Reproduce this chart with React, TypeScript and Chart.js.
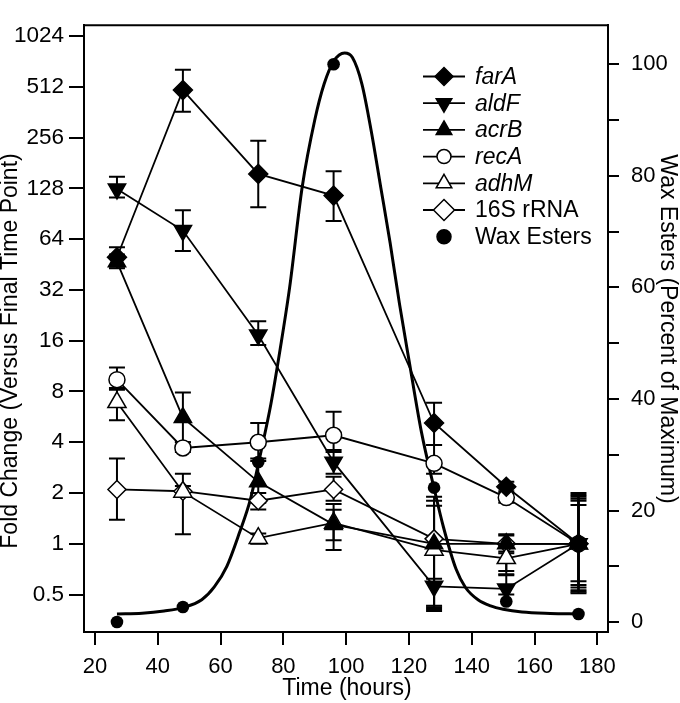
import React, { useEffect, useRef } from 'react';
import { Chart, registerables } from 'chart.js';

Chart.register(...registerables);

// ---- data ----
const hours = [27, 48, 72, 96, 128, 151, 174];

const farA = [50, 490, 156, 116, 5.2, 2.18, 1.0];
const farAUp = [57.3, 646, 245, 162, 6.85, 2.33, 1.95];
const farALo = [44, 364, 99, 82, 3.85, 2.05, 0.52];

const aldF = [127, 72, 17.3, 3.05, 0.56, 0.54, 1.0];
const aldFUp = [150, 95, 20.9, 3.6, 0.62, 0.66, 1.9];
const aldFLo = [113, 54.5, 15.1, 2.6, 0.4, 0.5, 0.55];

const acrB = [47, 5.6, 2.33, 1.3, 1.0, 1.0, 1.0];
const acrBUp = [52, 7.9, 3.1, 1.72, 1.8, 1.12, 1.8];
const acrBLo = [43, 4.0, 1.75, 1.05, 0.43, 0.9, 0.57];

const recA = [9.4, 3.7, 4.0, 4.4, 3.0, 1.88, 1.0];
const recAUp = [11.1, 4.0, 5.2, 6.07, 3.85, 2.0, 1.85];
const recALo = [8.4, 3.5, 3.2, 3.5, 2.6, 1.75, 0.53];

const adhM = [6.9, 2.03, 1.08, 1.33, 0.92, 0.82, 1.0];
const adhMUp = [8.2, 2.6, 1.15, 1.59, 1.68, 0.88, 1.7];
const adhMLo = [5.4, 1.14, 1.0, 0.92, 0.41, 0.69, 0.6];

const rRNA16S = [2.1, 2.05, 1.8, 2.1, 1.07, 1.0, 1.0];
const rRNA16SUp = [3.2, 2.2, 2.0, 2.5, 1.9, 1.14, 2.0];
const rRNA16SLo = [1.39, 1.9, 1.6, 1.8, 0.42, 0.65, 0.51];

const waxEsters = [0, 2.7, 28.7, 100, 24.1, 3.7, 1.45];

const fitHours = [27, 35, 42, 48, 54, 58, 62, 66, 69.5, 72.5, 76, 79, 82, 86, 90, 93, 96, 99.5, 102, 105, 108, 111, 114, 117, 120, 124, 128, 131, 135, 138, 142, 146, 150, 156, 165, 174];
const fitValues = [1.45, 1.6, 2.0, 2.6, 4.0, 6.3, 10, 16, 22, 29.6, 39, 49, 60, 78, 90, 96.5, 100.5, 102, 101.2, 96.5, 88, 78, 68, 57, 47, 34, 24, 17, 9.5, 6.2, 4.0, 2.9, 2.3, 1.8, 1.55, 1.45];

const xTicks = [20, 40, 60, 80, 100, 120, 140, 160, 180];
const foldTicks = [0.5, 1, 2, 4, 8, 16, 32, 64, 128, 256, 512, 1024];
const waxTicks = [0, 10, 20, 30, 40, 50, 60, 70, 80, 90, 100];

const FONT = '"Liberation Sans", Arial, Helvetica, sans-serif';

const genes = [
  { label: 'farA', data: farA, up: farAUp, lo: farALo, style: 'rectRot', rot: 0, r: 9.5, lr: 9, filled: true, italic: true },
  { label: 'aldF', data: aldF, up: aldFUp, lo: aldFLo, style: 'triangle', rot: 180, r: 10, lr: 9, filled: true, italic: true },
  { label: 'acrB', data: acrB, up: acrBUp, lo: acrBLo, style: 'triangle', rot: 0, r: 10, lr: 9, filled: true, italic: true },
  { label: 'recA', data: recA, up: recAUp, lo: recALo, style: 'circle', rot: 0, r: 8, lr: 7, filled: false, italic: true },
  { label: 'adhM', data: adhM, up: adhMUp, lo: adhMLo, style: 'triangle', rot: 0, r: 10.5, lr: 9, filled: false, italic: true },
  { label: '16S rRNA', data: rRNA16S, up: rRNA16SUp, lo: rRNA16SLo, style: 'rectRot', rot: 0, r: 9, lr: 10.5, filled: false, italic: false },
];

function drawMarker(ctx: CanvasRenderingContext2D, style: string, x: number, y: number, r: number, filled: boolean, rot: number) {
  ctx.beginPath();
  if (style === 'circle') {
    ctx.arc(x, y, r, 0, Math.PI * 2);
  } else if (style === 'rectRot') {
    ctx.moveTo(x, y - r);
    ctx.lineTo(x + r, y);
    ctx.lineTo(x, y + r);
    ctx.lineTo(x - r, y);
    ctx.closePath();
  } else {
    const s = rot === 180 ? -1 : 1;
    const hw = r * Math.sin((2 * Math.PI) / 3);
    ctx.moveTo(x, y - s * r);
    ctx.lineTo(x + hw, y + (s * r) / 2);
    ctx.lineTo(x - hw, y + (s * r) / 2);
    ctx.closePath();
  }
  ctx.fillStyle = filled ? '#000' : '#fff';
  ctx.fill();
  ctx.lineWidth = 1.5;
  ctx.strokeStyle = '#000';
  ctx.stroke();
}

const decor = {
  id: 'decor',
  beforeDatasetsDraw(chart: any) {
    const ctx: CanvasRenderingContext2D = chart.ctx;
    const xs = chart.scales.x;
    const ys = chart.scales.y;
    const area = chart.chartArea;
    ctx.save();
    ctx.beginPath();
    ctx.rect(area.left, area.top, area.right - area.left, area.bottom - area.top);
    ctx.clip();
    ctx.strokeStyle = '#000';
    ctx.lineWidth = 2;
    genes.forEach((g) => {
      hours.forEach((h, i) => {
        const px = xs.getPixelForValue(h);
        const pu = ys.getPixelForValue(g.up[i]);
        const pl = ys.getPixelForValue(g.lo[i]);
        ctx.beginPath();
        ctx.moveTo(px, pu);
        ctx.lineTo(px, pl);
        ctx.moveTo(px - 8, pu);
        ctx.lineTo(px + 8, pu);
        ctx.moveTo(px - 8, pl);
        ctx.lineTo(px + 8, pl);
        ctx.stroke();
      });
    });
    ctx.restore();
  },
  afterDraw(chart: any) {
    const ctx: CanvasRenderingContext2D = chart.ctx;
    const area = chart.chartArea;
    ctx.save();
    // top frame line
    ctx.strokeStyle = '#000';
    ctx.lineWidth = 2;
    ctx.beginPath();
    ctx.moveTo(area.left - 1, area.top);
    ctx.lineTo(area.right + 1, area.top);
    ctx.stroke();

    // legend
    const lx0 = area.left + 339;
    const lx1 = area.left + 381;
    const lmx = area.left + 360;
    const tx = area.left + 391;
    const ly0 = area.top + 51.3;
    const dy = 26.7;
    const entries = [
      ...genes.map((g) => ({ label: g.label, style: g.style, rot: g.rot, r: g.lr, filled: g.filled, italic: g.italic, line: true })),
      { label: 'Wax Esters', style: 'circle', rot: 0, r: 7, filled: true, italic: false, line: false },
    ];
    entries.forEach((e, i) => {
      const y = ly0 + i * dy;
      if (e.line) {
        ctx.strokeStyle = '#000';
        ctx.lineWidth = 1.8;
        ctx.beginPath();
        ctx.moveTo(lx0, y);
        ctx.lineTo(lx1, y);
        ctx.stroke();
      }
      drawMarker(ctx, e.style, lmx, y, e.r, e.filled, e.rot);
      ctx.fillStyle = '#000';
      ctx.font = (e.italic ? 'italic ' : '') + '23px ' + FONT;
      ctx.textAlign = 'left';
      ctx.textBaseline = 'middle';
      ctx.fillText(e.label, tx, y + 1);
    });

    // axis titles
    ctx.fillStyle = '#000';
    ctx.font = '23px ' + FONT;
    ctx.textAlign = 'center';
    ctx.textBaseline = 'middle';
    ctx.fillText('Time (hours)', (area.left + area.right) / 2 + 1, 689);

    ctx.save();
    ctx.translate(11, 351);
    ctx.rotate(-Math.PI / 2);
    ctx.fillText('Fold Change (Versus Final Time Point)', 0, 0);
    ctx.restore();

    ctx.save();
    ctx.translate(667, 329);
    ctx.rotate(Math.PI / 2);
    ctx.fillText('Wax Esters (Percent of Maximum)', 0, 0);
    ctx.restore();

    ctx.restore();
  },
};

export default function App() {
  const ref = useRef<HTMLCanvasElement | null>(null);

  useEffect(() => {
    document.body.style.margin = '0';
    const canvas = ref.current;
    if (!canvas) return;

    const geneSets = genes.map((g) => ({
      label: g.label,
      data: hours.map((h, i) => ({ x: h, y: g.data[i] })),
      yAxisID: 'y',
      borderColor: '#000',
      borderWidth: 1.8,
      backgroundColor: g.filled ? '#000' : '#fff',
      pointStyle: g.style,
      pointRotation: g.rot,
      pointRadius: g.r,
      pointBackgroundColor: g.filled ? '#000' : '#fff',
      pointBorderColor: '#000',
      pointBorderWidth: 1.5,
      tension: 0,
      fill: false,
      clip: false,
    }));

    const chart = new Chart(canvas, {
      type: 'line',
      data: {
        datasets: [
          ...geneSets,
          {
            label: 'Wax Esters',
            data: hours.map((h, i) => ({ x: h, y: waxEsters[i] })),
            yAxisID: 'y2',
            showLine: false,
            pointStyle: 'circle',
            pointRadius: 6.3,
            pointBackgroundColor: '#000',
            pointBorderColor: '#000',
            pointBorderWidth: 0,
            borderColor: '#000',
            backgroundColor: '#000',
            clip: false,
          },
          {
            label: 'fit',
            data: fitHours.map((h, i) => ({ x: h, y: fitValues[i] })),
            yAxisID: 'y2',
            borderColor: '#000',
            borderWidth: 3,
            pointRadius: 0,
            cubicInterpolationMode: 'monotone',
            fill: false,
          },
        ] as any,
      },
      options: {
        responsive: false,
        animation: false,
        devicePixelRatio: 1,
        layout: { padding: { top: 1, left: 0, right: 0, bottom: 0 }, autoPadding: false } as any,
        plugins: {
          legend: { display: false },
          tooltip: { enabled: false },
        },
        scales: {
          x: {
            type: 'linear',
            position: 'bottom',
            min: 16.5,
            max: 183.4,
            afterBuildTicks: (s: any) => {
              s.ticks = xTicks.map((v) => ({ value: v }));
            },
            afterFit: (s: any) => {
              s.height = 71;
            },
            grid: { display: true, drawOnChartArea: false, drawTicks: true, tickLength: 13, tickWidth: 2, tickColor: '#000', lineWidth: 2 },
            border: { display: true, color: '#000', width: 2 },
            ticks: { color: '#000', font: { size: 22, family: FONT }, padding: 9, maxRotation: 0, autoSkip: false },
          },
          y: {
            type: 'logarithmic',
            position: 'left',
            min: 0.309,
            max: 1188,
            afterBuildTicks: (s: any) => {
              s.ticks = foldTicks.map((v) => ({ value: v }));
            },
            afterFit: (s: any) => {
              s.width = 84;
            },
            grid: { display: true, drawOnChartArea: false, drawTicks: true, tickLength: 15, tickWidth: 2, tickColor: '#000', lineWidth: 2 },
            border: { display: true, color: '#000', width: 2 },
            ticks: {
              color: '#000',
              font: { size: 22.5, family: FONT },
              padding: 5,
              autoSkip: false,
              callback: (v: any) => String(v),
            },
          },
          y2: {
            type: 'linear',
            position: 'right',
            min: -1.78,
            max: 107,
            afterBuildTicks: (s: any) => {
              s.ticks = waxTicks.map((v) => ({ value: v }));
            },
            afterFit: (s: any) => {
              s.width = 72;
            },
            grid: { display: true, drawOnChartArea: false, drawTicks: true, tickLength: 11, tickWidth: 2, tickColor: '#000', lineWidth: 2 },
            border: { display: true, color: '#000', width: 2 },
            ticks: {
              color: '#000',
              font: { size: 22, family: FONT },
              padding: 12,
              autoSkip: false,
              callback: (v: any) => (Number(v) % 20 === 0 ? String(v) : ''),
            },
          },
        },
      } as any,
      plugins: [decor],
    });

    return () => {
      chart.destroy();
    };
  }, []);

  return (
    <div style={{ width: 680, height: 703, background: '#fff' }}>
      <canvas ref={ref} width={680} height={703} style={{ width: 680, height: 703, display: 'block' }} />
    </div>
  );
}
